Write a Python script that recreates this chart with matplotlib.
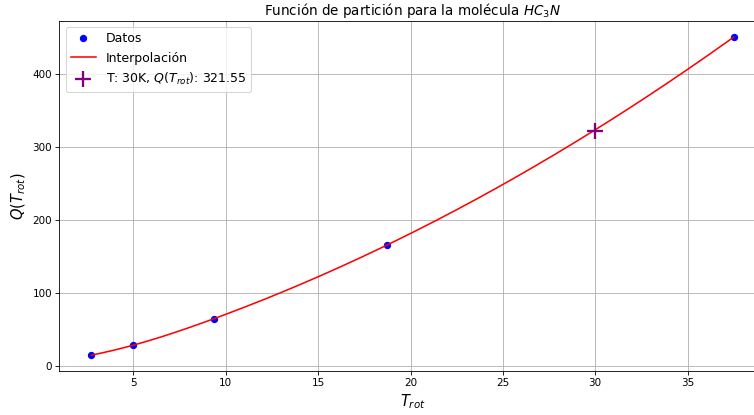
import numpy as np
import matplotlib
matplotlib.use("Agg")
import matplotlib.pyplot as plt

# Data
T_data = [2.725, 5.0, 9.375, 18.75, 37.5]
Q_data = [14.5, 28.2, 64.5, 165.5, 450.0]
T_query = 30
Q_query = 321.55


def not_a_knot_spline(x, y, xs):
    x = np.asarray(x, float)
    y = np.asarray(y, float)
    n = len(x)
    h = np.diff(x)
    A = np.zeros((n, n))
    b = np.zeros(n)
    A[0, 0] = h[1]
    A[0, 1] = -(h[0] + h[1])
    A[0, 2] = h[0]
    A[-1, -3] = h[-1]
    A[-1, -2] = -(h[-2] + h[-1])
    A[-1, -1] = h[-2]
    for i in range(1, n - 1):
        A[i, i - 1] = h[i - 1]
        A[i, i] = 2 * (h[i - 1] + h[i])
        A[i, i + 1] = h[i]
        b[i] = 3 * ((y[i + 1] - y[i]) / h[i] - (y[i] - y[i - 1]) / h[i - 1])
    c = np.linalg.solve(A, b)
    out = np.empty_like(xs)
    for k, xv in enumerate(xs):
        i = min(max(np.searchsorted(x, xv) - 1, 0), n - 2)
        dx = xv - x[i]
        bb = (y[i + 1] - y[i]) / h[i] - h[i] * (2 * c[i] + c[i + 1]) / 3
        d = (c[i + 1] - c[i]) / (3 * h[i])
        out[k] = y[i] + bb * dx + c[i] * dx ** 2 + d * dx ** 3
    return out


T_fine = np.linspace(T_data[0], T_data[-1], 400)
Q_fine = not_a_knot_spline(T_data, Q_data, T_fine)

fig = plt.figure(figsize=(754 / 75, 415 / 75), dpi=75)
ax = fig.add_axes([0.0787, 0.106, 0.937, 0.843])

ax.plot(T_data, Q_data, 'o', color='blue', markersize=6, label='Datos')
ax.plot(T_fine, Q_fine, '-', color='red', linewidth=1.5, label='Interpolación')
ax.plot([T_query], [Q_query], '+', color='purple', markersize=16, markeredgewidth=2.2,
        label=f'T: {T_query}K, $Q(T_{{rot}})$: {Q_query}')

ax.set_title('Función de partición para la molécula $HC_3N$', fontsize=13)
ax.set_xlabel('$T_{rot}$', fontsize=14)
ax.set_ylabel('$Q(T_{rot})$', fontsize=14)
ax.tick_params(labelsize=10)
ax.grid(True)
ax.legend(loc='upper left', fontsize=12)

fig.savefig('out.png', dpi=75)
